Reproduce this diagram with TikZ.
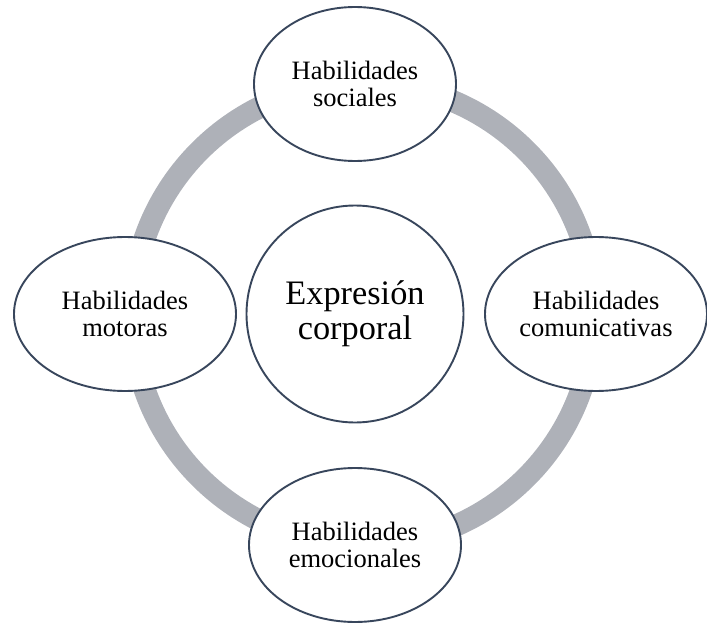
\documentclass[tikz,border=0pt]{standalone}
\usepackage{fontspec}
\setmainfont{Liberation Serif}
\usetikzlibrary{shapes.geometric,positioning}
\definecolor{ringgray}{RGB}{174,177,184}
\definecolor{rimblue}{RGB}{56,70,92}

\begin{document}
\begin{tikzpicture}[%
    x=1pt, y=-1pt,
    node distance=230pt,
    on grid,
    skill/.style={ellipse, draw=rimblue, line width=1.9pt, fill=white,
      align=center, inner sep=0pt, minimum width=222pt, minimum height=154pt,
      font=\fontsize{26.5}{27.5}\selectfont},
    hub/.style={circle, draw=rimblue, line width=1.9pt, fill=white,
      align=center, inner sep=0pt, minimum size=217pt,
      font=\fontsize{34.3}{35}\selectfont}
  ]
    \useasboundingbox (0,0) rectangle (707,623);

    % the cycle behind the skills
    \coordinate (R) at (363,314);
    \draw[ringgray, line width=22pt] (R) circle[radius=231];

    \node[hub] (C) at (355,314) {Expresión\\corporal};
    \node[skill, minimum width=202pt] (S) [above=of C] {Habilidades\\sociales};
    \node[skill, minimum width=212pt] (E) [below=231pt of C] {Habilidades\\emocionales};
    \node[skill] (M) [left=of C] {Habilidades\\motoras};
    \node[skill] (K) [right=241pt of C] {Habilidades\\comunicativas};
  \end{tikzpicture}
\end{document}
